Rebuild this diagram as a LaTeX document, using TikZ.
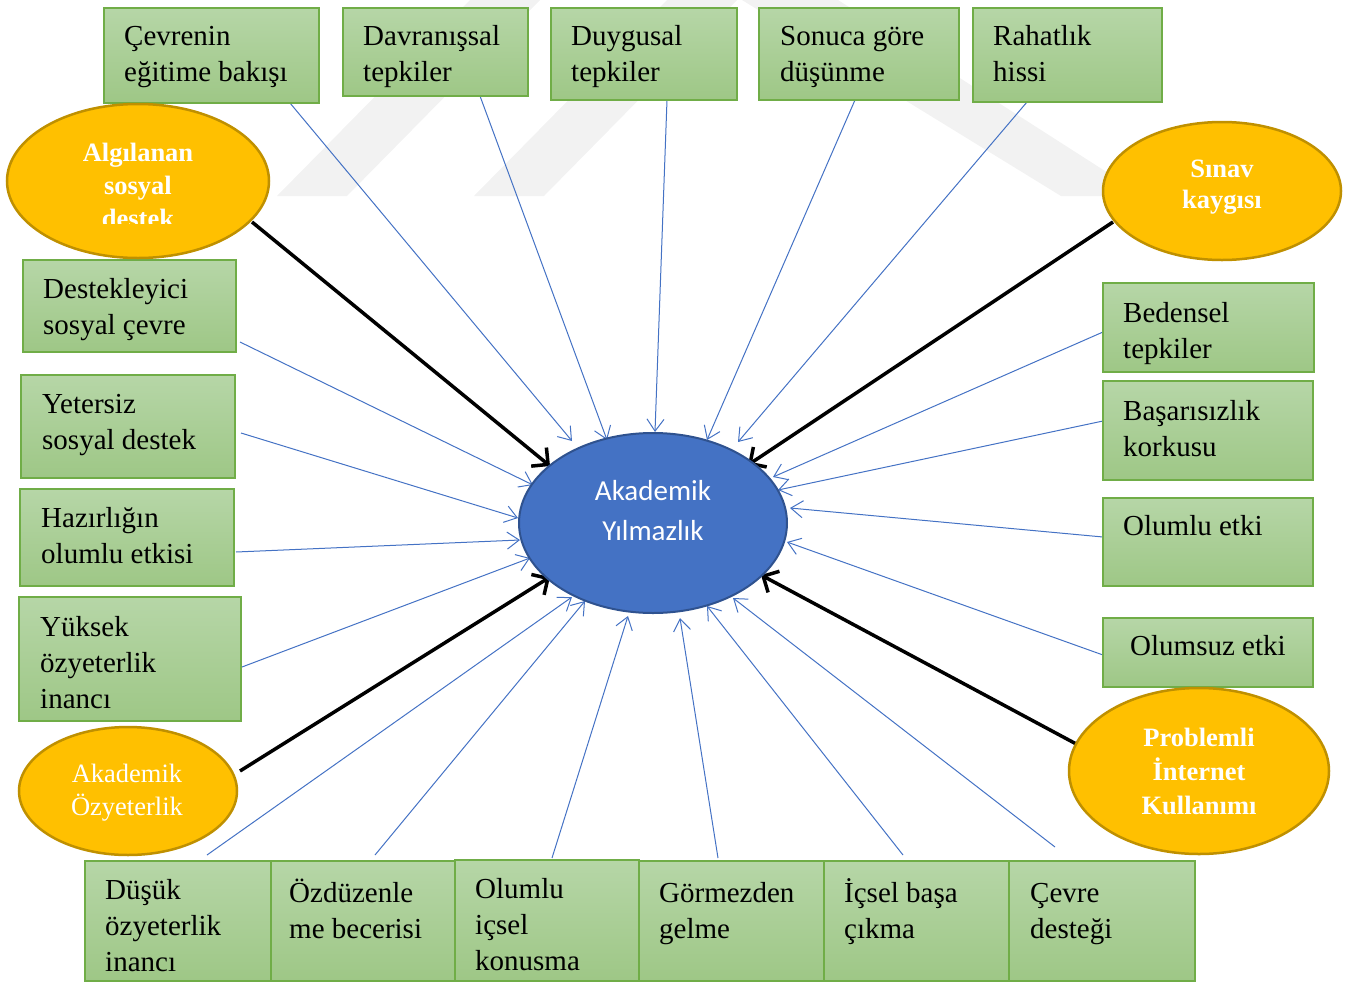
\documentclass[tikz,border=0pt]{standalone}
\usepackage{fontspec}
\newfontfamily\fTimes{Liberation Serif}
\newfontfamily\fCalibri{Carlito}
\usetikzlibrary{shapes.geometric,arrows.meta}
\definecolor{gtop}{RGB}{182,214,167}
\definecolor{gbot}{RGB}{158,199,134}
\definecolor{gline}{RGB}{112,173,71}
\definecolor{yfill}{RGB}{255,192,0}
\definecolor{yline}{RGB}{191,144,0}
\definecolor{bfill}{RGB}{68,114,196}
\definecolor{bline}{RGB}{47,82,143}
\definecolor{wm}{RGB}{242,242,242}
\newcommand\mlines[2]{\begin{tabular}[t]{@{}#1@{}}#2\end{tabular}}
\pgfdeclarelayer{wmark}
\pgfdeclarelayer{links}
\pgfsetlayers{wmark,links,main}
\begin{document}
\begin{tikzpicture}[x=1pt,y=-1pt,
 gbox/.style={draw=gline,line width=1.5pt,top color=gtop,bottom color=gbot,inner sep=0pt,outer sep=0pt,anchor=north west},
 yell/.style={ellipse,draw=yline,line width=2.5pt,fill=yfill,inner sep=0pt,outer sep=0pt},
 btxt/.style={anchor=base west,inner sep=0pt,font=\fTimes\fontsize{29}{36}\selectfont},
 etxt/.style={anchor=base,inner sep=0pt,text=white,font=\fTimes\bfseries\fontsize{26.5}{33}\selectfont},
 ba/.style={draw=bfill,line width=1pt,-{Straight Barb[length=12pt,width=17pt]}},
 ka/.style={draw=black,line width=3.5pt,-{Straight Barb[length=12pt,width=24pt]}},
]
\useasboundingbox (0,0) rectangle (1353,983);

% top boxes
\node[gbox,minimum width=215pt,minimum height=95pt] (c1) at (104,8) {};
\node[gbox,minimum width=185pt,minimum height=88pt] (c2) at (343,8) {};
\node[gbox,minimum width=186pt,minimum height=92pt] (c3) at (551,8) {};
\node[gbox,minimum width=200pt,minimum height=92pt] (c4) at (759,8) {};
\node[gbox,minimum width=189pt,minimum height=94pt] (c5) at (973,8) {};
% left boxes
\node[gbox,minimum width=213pt,minimum height=92pt] (l1) at (23,260) {};
\node[gbox,minimum width=214pt,minimum height=103pt] (l2) at (21,375) {};
\node[gbox,minimum width=214pt,minimum height=97pt] (l3) at (20,489) {};
\node[gbox,minimum width=222pt,minimum height=124pt] (l4) at (19,597) {};
% right boxes
\node[gbox,minimum width=211pt,minimum height=89pt] (r1) at (1103,283) {};
\node[gbox,minimum width=210pt,minimum height=99pt] (r2) at (1103,381) {};
\node[gbox,minimum width=210pt,minimum height=88pt] (r3) at (1103,498) {};
\node[gbox,minimum width=210pt,minimum height=69pt] (r4) at (1103,618) {};
% bottom boxes
\node[gbox,minimum width=186pt,minimum height=120pt] (b1) at (85,861) {};
\node[gbox,minimum width=184pt,minimum height=120pt] (b2) at (271,861) {};
\node[gbox,minimum width=184pt,minimum height=121pt] (b3) at (455,860) {};
\node[gbox,minimum width=185pt,minimum height=120pt] (b4) at (639,861) {};
\node[gbox,minimum width=185pt,minimum height=120pt] (b5) at (824,861) {};
\node[gbox,minimum width=186pt,minimum height=120pt] (b6) at (1009,861) {};

% box texts
\node[btxt] (tc1) at ([shift={(20,37)}]c1.north west) {\mlines{l}{Çevrenin\\eğitime bakışı}};
\node[btxt] (tc2) at ([shift={(20,37)}]c2.north west) {\mlines{l}{Davranışsal\\tepkiler}};
\node[btxt] (tc3) at ([shift={(20,37)}]c3.north west) {\mlines{l}{Duygusal\\tepkiler}};
\node[btxt] (tc4) at ([shift={(21,37)}]c4.north west) {\mlines{l}{Sonuca göre\\düşünme}};
\node[btxt] (tc5) at ([shift={(20,37)}]c5.north west) {\mlines{l}{Rahatlık\\hissi}};
\node[btxt] (tl1) at ([shift={(20,38)}]l1.north west) {\mlines{l}{Destekleyici\\sosyal çevre}};
\node[btxt] (tl2) at ([shift={(21,38)}]l2.north west) {\mlines{l}{Yetersiz\\sosyal destek}};
\node[btxt] (tl3) at ([shift={(21,38)}]l3.north west) {\mlines{l}{Hazırlığın\\olumlu etkisi}};
\node[btxt] (tl4) at ([shift={(21,39)}]l4.north west) {\mlines{l}{Yüksek\\özyeterlik\\inancı}};
\node[btxt] (tr1) at ([shift={(20,39)}]r1.north west) {\mlines{l}{Bedensel\\tepkiler}};
\node[btxt] (tr2) at ([shift={(20,39)}]r2.north west) {\mlines{l}{Başarısızlık\\korkusu}};
\node[btxt] (tr3) at ([shift={(20,37)}]r3.north west) {Olumlu etki};
\node[btxt] (tr4) at ([shift={(27,37)}]r4.north west) {Olumsuz etki};
\node[btxt] (tb1) at ([shift={(20,38)}]b1.north west) {\mlines{l}{Düşük\\özyeterlik\\inancı}};
\node[btxt] (tb2) at ([shift={(18,41)}]b2.north west) {\mlines{l}{Özdüzenle\\me becerisi}};
\node[btxt] (tb3) at ([shift={(20,38)}]b3.north west) {\mlines{l}{Olumlu\\içsel\\konusma}};
\node[btxt] (tb4) at ([shift={(20,41)}]b4.north west) {\mlines{l}{Görmezden\\gelme}};
\node[btxt] (tb5) at ([shift={(20,41)}]b5.north west) {\mlines{l}{İçsel başa\\çıkma}};
\node[btxt] (tb6) at ([shift={(21,41)}]b6.north west) {\mlines{l}{Çevre\\desteği}};

% ellipses
\node[yell,minimum width=262pt,minimum height=154pt] (as) at (138,181) {};
\node[yell,minimum width=218pt,minimum height=128pt] (ao) at (128,791) {};
\node[yell,minimum width=238pt,minimum height=138pt] (sk) at (1222,191) {};
\node[yell,minimum width=260pt,minimum height=166pt] (pi) at (1199,771) {};
\node[ellipse,draw=bline,line width=2pt,fill=bfill,inner sep=0pt,minimum width=268pt,minimum height=180pt] (ay) at (653,523) {};

\begin{scope}
\clip (0,100) rectangle (300,223);
\node[etxt] (tas) at ([shift={(0,-19.5)}]as.center) {\mlines{c}{Algılanan\\sosyal\\destek}};
\end{scope}
\node[etxt,font=\fTimes\bfseries\fontsize{26.5}{30.6}\selectfont] (tsk) at ([shift={(0,-13.3)}]sk.center) {\mlines{c}{Sınav\\kaygısı}};
\node[etxt,font=\fTimes\fontsize{26.5}{32.3}\selectfont] (tao) at ([shift={(-1,-8.3)}]ao.center) {\mlines{c}{Akademik\\Özyeterlik}};
\node[etxt,font=\fTimes\bfseries\fontsize{26.5}{33.8}\selectfont] (tpi) at ([shift={(0,-24.3)}]pi.center) {\mlines{c}{Problemli\\İnternet\\Kullanımı}};
\node[etxt,font=\fCalibri\fontsize{29}{40}\selectfont] (tay) at ([shift={(0,-23)}]ay.center) {\mlines{c}{Akademik\\Yılmazlık}};

% watermark
\begin{pgfonlayer}{wmark}
\fill[wm] (277,196) -- (347,196) -- (540,0) -- (470,0) -- cycle;
\fill[wm] (474,196) -- (544,196) -- (737,0) -- (667,0) -- cycle;
\fill[wm] (742,0) -- (838,0) -- (1144,196) -- (1061,196) -- cycle;
\end{pgfonlayer}

% connectors
\begin{pgfonlayer}{links}
\draw[ba] ([xshift=186pt]c1.south west) -- ([shift={(-81,-82)}]ay.center);
\draw[ba] ([xshift=137pt]c2.south west) -- ([shift={(-46,-83)}]ay.center);
\draw[ba] ([xshift=116pt]c3.south west) -- ([shift={(2,-91)}]ay.center);
\draw[ba] ([xshift=96pt]c4.south west) -- ([shift={(54,-83)}]ay.center);
\draw[ba] ([xshift=54pt]c5.south west) -- ([shift={(85,-81)}]ay.center);
\draw[ba] ([shift={(4,82)}]l1.north east) -- ([shift={(-120,-38)}]ay.center);
\draw[ba] ([shift={(6,58)}]l2.north east) -- ([shift={(-135,-5)}]ay.center);
\draw[ba] ([shift={(2,63)}]l3.north east) -- ([shift={(-133,17)}]ay.center);
\draw[ba] ([shift={(1,70)}]l4.north east) -- ([shift={(-123,35)}]ay.center);
\draw[ba] ([shift={(122,-6)}]b1.north west) -- ([shift={(-81,74)}]ay.center);
\draw[ba] ([shift={(104,-6)}]b2.north west) -- ([shift={(-68,78)}]ay.center);
\draw[ba] ([shift={(97,-2)}]b3.north west) -- ([shift={(-25,93)}]ay.center);
\draw[ba] ([shift={(79,-3)}]b4.north west) -- ([shift={(27,95)}]ay.center);
\draw[ba] ([shift={(79,-6)}]b5.north west) -- ([shift={(54,83)}]ay.center);
\draw[ba] ([shift={(46,-14)}]b6.north west) -- ([shift={(80,75)}]ay.center);
\draw[ba] ([shift={(0,49)}]r1.north west) -- ([shift={(120,-46)}]ay.center);
\draw[ba] ([shift={(0,40)}]r2.north west) -- ([shift={(125,-33)}]ay.center);
\draw[ba] ([shift={(0,39)}]r3.north west) -- ([shift={(137,-15)}]ay.center);
\draw[ba] ([shift={(0,37)}]r4.north west) -- ([shift={(134,19)}]ay.center);
\draw[ka] ([shift={(114,41)}]as.center) -- ([shift={(-103,-57)}]ay.center);
\draw[ka] ([shift={(112,-20)}]ao.center) -- ([shift={(-103,54)}]ay.center);
\draw[ka] ([shift={(-109,31)}]sk.center) -- ([shift={(95,-58)}]ay.center);
\draw[ka] ([shift={(-119,-25)}]pi.center) -- ([shift={(108,52)}]ay.center);
\end{pgfonlayer}
\end{tikzpicture}
\end{document}
